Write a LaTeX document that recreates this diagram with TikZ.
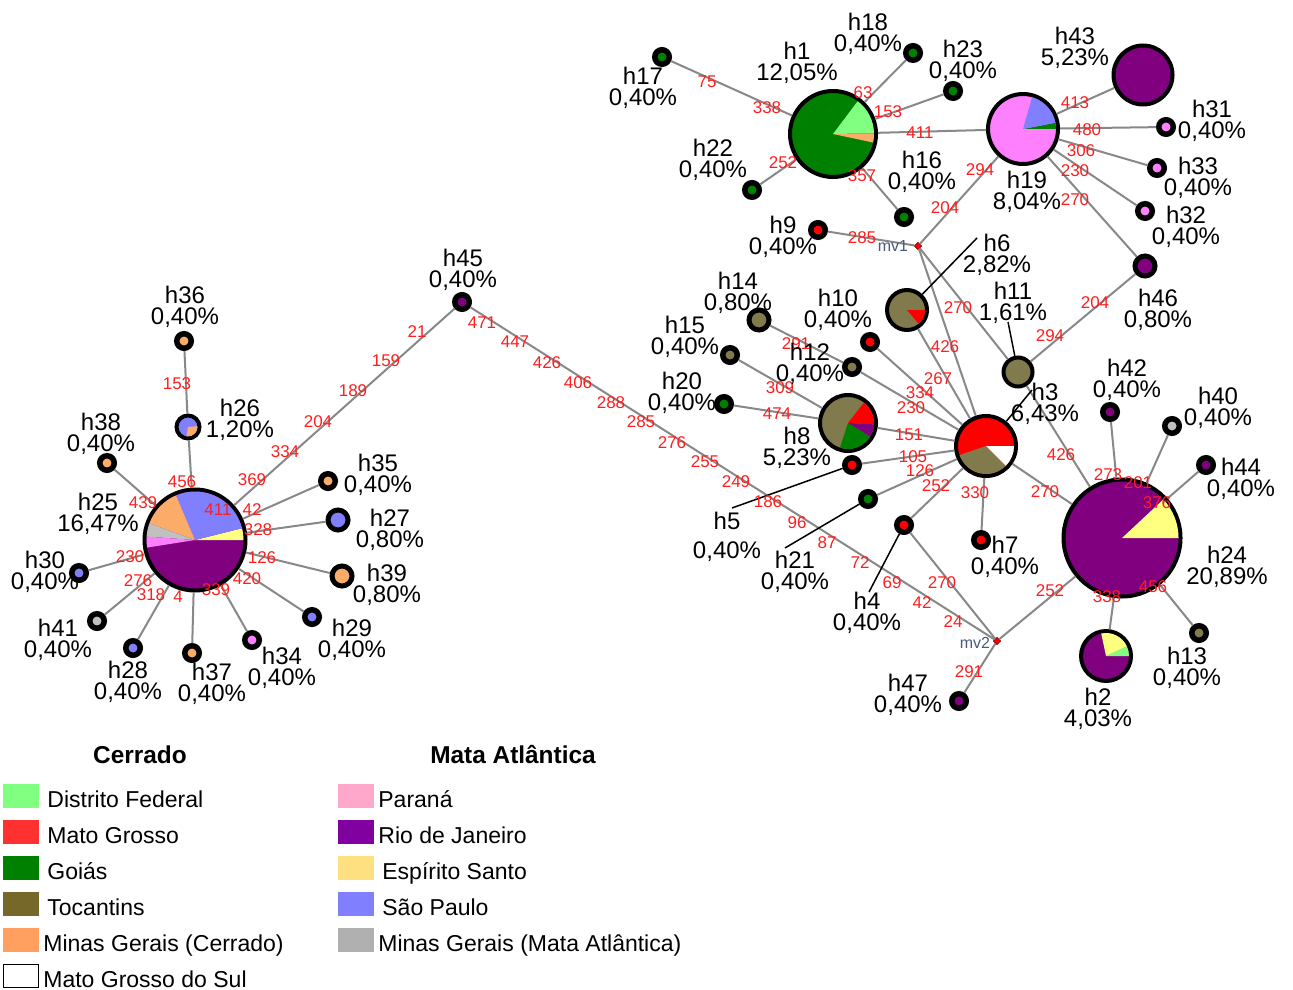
\documentclass[tikz,border=0pt]{standalone}
\usepackage{fontspec}
\setmainfont{Liberation Sans}
\definecolor{cGo}{RGB}{0,128,0}
\definecolor{cLg}{RGB}{128,255,128}
\definecolor{cRd}{RGB}{255,0,0}
\definecolor{cOl}{RGB}{128,122,76}
\definecolor{cOr}{RGB}{250,172,104}
\definecolor{cPk}{RGB}{255,128,255}
\definecolor{cPu}{RGB}{128,0,128}
\definecolor{cYe}{RGB}{255,255,128}
\definecolor{cBl}{RGB}{128,128,255}
\definecolor{cGy}{RGB}{192,192,192}
\definecolor{edgegray}{RGB}{136,136,136}
\definecolor{mred}{RGB}{255,30,30}
\definecolor{mvcol}{RGB}{70,90,125}
\definecolor{lDF}{RGB}{128,255,128}
\definecolor{lMT}{RGB}{255,48,48}
\definecolor{lGO}{RGB}{0,128,0}
\definecolor{lTO}{RGB}{118,104,40}
\definecolor{lMG}{RGB}{255,160,96}
\definecolor{lPR}{RGB}{255,168,204}
\definecolor{lRJ}{RGB}{128,0,160}
\definecolor{lES}{RGB}{255,224,128}
\definecolor{lSP}{RGB}{128,128,255}
\definecolor{lMA}{RGB}{176,176,176}
\newcounter{mlc}
\newcommand\ml[3]{\stepcounter{mlc}\node[mlab] (ml\arabic{mlc}) at (#1,-#2) {#3};}
\newcommand\hl[4]{\node[hlab] (L#1) at (#2,-#3) {#4};}
\newcommand\pieslc[5]{\fill[#5] (#1.center) -- ++(#3:#2) arc[start angle=#3, end angle=#4, radius=#2] -- cycle;}
\tikzset{
  hapnode/.style={circle, draw=black, inner sep=0pt},
  sm/.style={hapnode, minimum size=7.25pt, line width=2.75pt},
  md/.style={hapnode, minimum size=10pt, line width=2.5pt},
  bg/.style={hapnode, line width=2pt, minimum size=#1},
  edge/.style={draw=edgegray, line width=1pt},
  lead/.style={draw=black, line width=0.75pt},
  hlab/.style={align=center, inner sep=0pt, font=\fontsize{12}{10.5}\selectfont},
  mlab/.style={text=mred, inner sep=0pt, font=\fontsize{8.5}{9}\selectfont},
  mvlab/.style={text=mvcol, inner sep=0pt, font=\fontsize{8}{9}\selectfont},
  mvnode/.style={rectangle, rotate=45, fill=red, draw=red!50!black, line width=0.3pt, minimum size=2.6pt, inner sep=0pt},
  sw/.style={rectangle, draw=none, minimum width=18pt, minimum height=12pt, inner sep=0pt},
  lt/.style={anchor=base west, inner sep=0pt, font=\fontsize{11.5}{13}\selectfont},
  lh/.style={anchor=base, inner sep=0pt, font=\bfseries\fontsize{12.2}{14}\selectfont}
}
\begin{document}
\begin{tikzpicture}[x=0.5pt, y=0.5pt]
\useasboundingbox (0,0) rectangle (1293,-989);
% ---------- haplotype nodes ----------
% left cluster
\node[bg=50.5pt, fill=cPu] (h25) at (195,-540) {};
\node[bg=11.5pt, fill=cBl] (h26) at (188,-427) {};
\node[sm, fill=cOr] (h36) at (184,-341) {};
\node[sm, fill=cOr] (h38) at (107,-463) {};
\node[sm, fill=cOr] (h35) at (328,-481) {};
\node[md, fill=cBl] (h27) at (338,-520) {};
\node[md, fill=cOr] (h39) at (342,-576) {};
\node[sm, fill=cBl] (h29) at (312,-617) {};
\node[sm, fill=cPk] (h34) at (252,-640) {};
\node[sm, fill=cOr] (h37) at (192,-653) {};
\node[sm, fill=cBl] (h28) at (133,-648) {};
\node[sm, fill=cGy] (h41) at (97,-621) {};
\node[sm, fill=cBl] (h30) at (79,-573) {};
\node[sm, fill=cPu] (h45) at (462,-302) {};
% top right
\node[bg=43pt, fill=cGo] (h1) at (833,-134) {};
\node[sm, fill=cGo] (h17) at (662,-57) {};
\node[sm, fill=cGo] (h18) at (913,-53) {};
\node[sm, fill=cGo] (h23) at (953,-91) {};
\node[sm, fill=cGo] (h22) at (752,-190) {};
\node[sm, fill=cGo] (h16) at (904,-217) {};
\node[sm, fill=cRd] (h9) at (818,-230) {};
\node[mvnode] (mv1) at (918,-246) {};
\node[bg=35pt, fill=cPk] (h19) at (1023,-129) {};
\node[bg=29.5pt, fill=cPu] (h43) at (1143,-75) {};
\node[sm, fill=cPk] (h31) at (1166,-127) {};
\node[sm, fill=cPk] (h33) at (1157,-168) {};
\node[sm, fill=cPk] (h32) at (1145,-211) {};
\node[md, fill=cPu] (h46) at (1145,-266) {};
% middle right
\node[bg=20pt, fill=cOl] (h6) at (907,-310) {};
\node[bg=14.5pt, fill=cOl] (h11) at (1018,-372) {};
\node[md, fill=cOl] (h14) at (759,-320) {};
\node[sm, fill=cOl] (h15) at (730,-355) {};
\node[sm, fill=cRd] (h10) at (870,-342) {};
\node[sm, fill=cOl] (h12) at (852,-367) {};
\node[sm, fill=cGo] (h20) at (724,-404) {};
\node[bg=28pt, fill=cOl] (h8) at (848,-423) {};
\node[bg=30pt, fill=cRd] (h3) at (986,-446) {};
\node[sm, fill=cRd] (h5) at (852,-465) {};
\node[sm, fill=cGo] (h21) at (868,-499) {};
\node[sm, fill=cRd] (h4) at (904,-525) {};
\node[sm, fill=cRd] (h7) at (981,-540) {};
\node[mvnode] (mv2) at (997,-641) {};
\node[sm, fill=cPu] (h47) at (959,-701) {};
% bottom right
\node[bg=58.5pt, fill=cPu] (h24) at (1122,-538) {};
\node[sm, fill=cPu] (h42) at (1110,-412) {};
\node[sm, fill=cGy] (h40) at (1172,-426) {};
\node[sm, fill=cPu] (h44) at (1206,-465) {};
\node[sm, fill=cOl] (h13) at (1199,-633) {};
\node[bg=25pt, fill=cPu] (h2) at (1106,-656) {};
% ---------- pie slices ----------
\pieslc{h25}{48.5}{0}{14}{cYe}
\pieslc{h25}{48.5}{14}{113}{cBl}
\pieslc{h25}{48.5}{113}{160}{cOr}
\pieslc{h25}{48.5}{160}{176}{cGy}
\pieslc{h25}{48.5}{176}{189}{cPk}
\pieslc{h26}{9.5}{-100}{5}{cOr}
\pieslc{h1}{41}{1}{53}{cLg}
\pieslc{h1}{41}{-12}{1}{cOr}
\pieslc{h19}{33}{0}{11}{cGo}
\pieslc{h19}{33}{11}{74}{cBl}
\pieslc{h6}{18}{-50}{0}{cRd}
\pieslc{h8}{26}{-3}{52}{cRd}
\pieslc{h8}{26}{-32}{-3}{cPu}
\pieslc{h8}{26}{-108}{-32}{cGo}
\pieslc{h3}{28}{199}{315}{cOl}
\pieslc{h3}{28}{315}{360}{white}
\pieslc{h24}{56.5}{0}{43}{cYe}
\pieslc{h2}{23}{0}{25}{cLg}
\pieslc{h2}{23}{25}{102}{cYe}
% ---------- connectors ----------
\draw[edge] (h36) -- (h26);
\draw[edge] (h26) -- (h25);
\draw[edge] (h38) -- (h25);
\draw[edge] (h35) -- (h25);
\draw[edge] (h27) -- (h25);
\draw[edge] (h39) -- (h25);
\draw[edge] (h29) -- (h25);
\draw[edge] (h34) -- (h25);
\draw[edge] (h37) -- (h25);
\draw[edge] (h28) -- (h25);
\draw[edge] (h41) -- (h25);
\draw[edge] (h30) -- (h25);
\draw[edge] (h25) -- (h45);
\draw[edge] (h45) -- (mv2);
\draw[edge] (h1) -- (h17);
\draw[edge] (h1) -- (h18);
\draw[edge] (h1) -- (h23);
\draw[edge] (h1) -- (h22);
\draw[edge] (h1) -- (h16);
\draw[edge] (h1) -- (h19);
\draw[edge] (h19) -- (h43);
\draw[edge] (h19) -- (h31);
\draw[edge] (h19) -- (h33);
\draw[edge] (h19) -- (h32);
\draw[edge] (h19) -- (h46);
\draw[edge] (h19) -- (mv1);
\draw[edge] (mv1) -- (h9);
\draw[edge] (mv1) -- (h11);
\draw[edge] (mv1) -- (h3);
\draw[edge] (h11) -- (h46);
\draw[edge] (h11) -- (h24);
\draw[edge] (h6) -- (h3);
\draw[edge] (h10) -- (h3);
\draw[edge] (h14) -- (h12);
\draw[edge] (h12) -- (h3);
\draw[edge] (h15) -- (h8);
\draw[edge] (h20) -- (h8);
\draw[edge] (h8) -- (h3);
\draw[edge] (h5) -- (h3);
\draw[edge] (h21) -- (h3);
\draw[edge] (h4) -- (h3);
\draw[edge] (h7) -- (h3);
\draw[edge] (h3) -- (h24);
\draw[edge] (h4) -- (mv2);
\draw[edge] (mv2) -- (h24);
\draw[edge] (mv2) -- (h47);
\draw[edge] (h24) -- (h42);
\draw[edge] (h24) -- (h40);
\draw[edge] (h24) -- (h44);
\draw[edge] (h24) -- (h13);
\draw[edge] (h24) -- (h2);
% leader lines
\coordinate (k6) at (977,-238);
\coordinate (k11) at (1008,-322);
\coordinate (k3) at (1032,-390);
\coordinate (k5) at (732,-508);
\coordinate (k21) at (785,-548);
\coordinate (k4) at (869,-592);
\draw[lead] (k6) -- (h6);
\draw[lead] (k11) -- (h11);
\draw[lead] (k3) -- (h3);
\draw[lead] (k5) -- (h5);
\draw[lead] (k21) -- (h21);
\draw[lead] (k4) -- (h4);
% ---------- mutation labels ----------
\ml{177}{384}{153}
\ml{182}{482}{456}
\ml{143}{503}{439}
\ml{252}{480}{369}
\ml{285}{452}{334}
\ml{318}{422}{204}
\ml{353}{391}{189}
\ml{386}{361}{159}
\ml{417}{332}{21}
\ml{218}{510}{411}
\ml{252}{510}{42}
\ml{258}{530}{328}
\ml{262}{558}{126}
\ml{247}{579}{420}
\ml{216}{590}{339}
\ml{178}{597}{4}
\ml{151}{595}{318}
\ml{138}{581}{276}
\ml{130}{557}{230}
\ml{482}{323}{471}
\ml{515}{342}{447}
\ml{547}{363}{426}
\ml{578}{383}{406}
\ml{611}{403}{288}
\ml{641}{422}{285}
\ml{672}{443}{276}
\ml{705}{462}{255}
\ml{736}{482}{249}
\ml{768}{502}{186}
\ml{797}{523}{96}
\ml{827}{543}{87}
\ml{860}{563}{72}
\ml{892}{583}{69}
\ml{922}{603}{42}
\ml{953}{622}{24}
\ml{707}{82}{75}
\ml{767}{108}{338}
\ml{863}{93}{63}
\ml{888}{112}{153}
\ml{920}{133}{411}
\ml{783}{163}{252}
\ml{862}{176}{357}
\ml{980}{170}{294}
\ml{945}{208}{204}
\ml{862}{238}{285}
\ml{1075}{103}{413}
\ml{1087}{130}{480}
\ml{1081}{151}{306}
\ml{1075}{171}{230}
\ml{1075}{200}{270}
\ml{958}{308}{270}
\ml{945}{347}{426}
\ml{1095}{303}{204}
\ml{1050}{336}{294}
\ml{796}{344}{291}
\ml{938}{379}{267}
\ml{920}{393}{334}
\ml{911}{408}{230}
\ml{780}{388}{309}
\ml{777}{414}{474}
\ml{909}{435}{151}
\ml{913}{457}{105}
\ml{920}{471}{126}
\ml{936}{486}{252}
\ml{975}{493}{330}
\ml{1045}{492}{270}
\ml{1061}{455}{426}
\ml{942}{583}{270}
\ml{1050}{591}{252}
\ml{969}{672}{291}
\ml{1108}{475}{273}
\ml{1138}{483}{201}
\ml{1157}{503}{376}
\ml{1107}{597}{338}
\ml{1153}{587}{456}
\node[mvlab] (tmv1) at (893,-246) {mv1};
\node[mvlab] (tmv2) at (975,-643) {mv2};
% ---------- haplotype labels ----------
\hl{h36}{185}{307}{h36\\0,40\%}
\hl{h26}{240}{420}{h26\\1,20\%}
\hl{h38}{101}{434}{h38\\0,40\%}
\hl{h25}{98}{514}{h25\\16,47\%}
\hl{h35}{378}{475}{h35\\0,40\%}
\hl{h27}{390}{530}{h27\\0,80\%}
\hl{h39}{387}{585}{h39\\0,80\%}
\hl{h29}{352}{640}{h29\\0,40\%}
\hl{h34}{282}{668}{h34\\0,40\%}
\hl{h37}{212}{684}{h37\\0,40\%}
\hl{h28}{128}{682}{h28\\0,40\%}
\hl{h41}{58}{640}{h41\\0,40\%}
\hl{h30}{45}{572}{h30\\0,40\%}
\hl{h45}{463}{270}{h45\\0,40\%}
\hl{h17}{643}{88}{h17\\0,40\%}
\hl{h1}{797}{63}{h1\\12,05\%}
\hl{h18}{868}{34}{h18\\0,40\%}
\hl{h23}{963}{61}{h23\\0,40\%}
\hl{h22}{713}{160}{h22\\0,40\%}
\hl{h16}{922}{172}{h16\\0,40\%}
\hl{h9}{783}{237}{h9\\0,40\%}
\hl{h43}{1075}{48}{h43\\5,23\%}
\hl{h31}{1212}{121}{h31\\0,40\%}
\hl{h33}{1198}{178}{h33\\0,40\%}
\hl{h32}{1186}{227}{h32\\0,40\%}
\hl{h19}{1027}{192}{h19\\8,04\%}
\hl{h46}{1158}{310}{h46\\0,80\%}
\hl{h6}{997}{255}{h6\\2,82\%}
\hl{h11}{1013}{303}{h11\\1,61\%}
\hl{h14}{738}{293}{h14\\0,80\%}
\hl{h15}{685}{337}{h15\\0,40\%}
\hl{h10}{838}{310}{h10\\0,40\%}
\hl{h12}{810}{364}{h12\\0,40\%}
\hl{h20}{682}{393}{h20\\0,40\%}
\hl{h8}{797}{448}{h8\\5,23\%}
\hl{h3}{1045}{404}{h3\\6,43\%}
\hl{h5}{727}{537}{h5\\[4pt]0,40\%}
\hl{h21}{795}{572}{h21\\0,40\%}
\hl{h4}{867}{613}{h4\\0,40\%}
\hl{h7}{1005}{557}{h7\\0,40\%}
\hl{h47}{908}{695}{h47\\0,40\%}
\hl{h42}{1127}{380}{h42\\0,40\%}
\hl{h40}{1218}{408}{h40\\0,40\%}
\hl{h44}{1241}{479}{h44\\0,40\%}
\hl{h24}{1227}{567}{h24\\20,89\%}
\hl{h13}{1187}{668}{h13\\0,40\%}
\hl{h2}{1098}{709}{h2\\4,03\%}
% ---------- legend ----------
\node[lh] (legC) at (140,-763) {Cerrado};
\node[lh] (legM) at (513,-763) {Mata Atlântica};
\node[sw, fill=lDF] (s1) at (21,-796) {};
\node[sw, fill=lMT] (s2) at (21,-832) {};
\node[sw, fill=lGO] (s3) at (21,-868) {};
\node[sw, fill=lTO] (s4) at (21,-904) {};
\node[sw, fill=lMG] (s5) at (21,-940) {};
\node[sw, draw=black, line width=0.6pt, fill=white, minimum width=17.4pt, minimum height=11.4pt] (s6) at (21,-976) {};
\node[lt] (t1) at (47,-807) {Distrito Federal};
\node[lt] (t2) at (47,-843) {Mato Grosso};
\node[lt] (t3) at (47,-879) {Goiás};
\node[lt] (t4) at (47,-915) {Tocantins};
\node[lt] (t5) at (43,-951) {Minas Gerais (Cerrado)};
\node[lt] (t6) at (43,-987) {Mato Grosso do Sul};
\node[sw, fill=lPR] (s7) at (356,-796) {};
\node[sw, fill=lRJ] (s8) at (356,-832) {};
\node[sw, fill=lES] (s9) at (356,-868) {};
\node[sw, fill=lSP] (s10) at (356,-904) {};
\node[sw, fill=lMA] (s11) at (356,-940) {};
\node[lt] (t7) at (378,-807) {Paraná};
\node[lt] (t8) at (378,-843) {Rio de Janeiro};
\node[lt] (t9) at (382,-879) {Espírito Santo};
\node[lt] (t10) at (382,-915) {São Paulo};
\node[lt] (t11) at (378,-951) {Minas Gerais (Mata Atlântica)};
\end{tikzpicture}
\end{document}
